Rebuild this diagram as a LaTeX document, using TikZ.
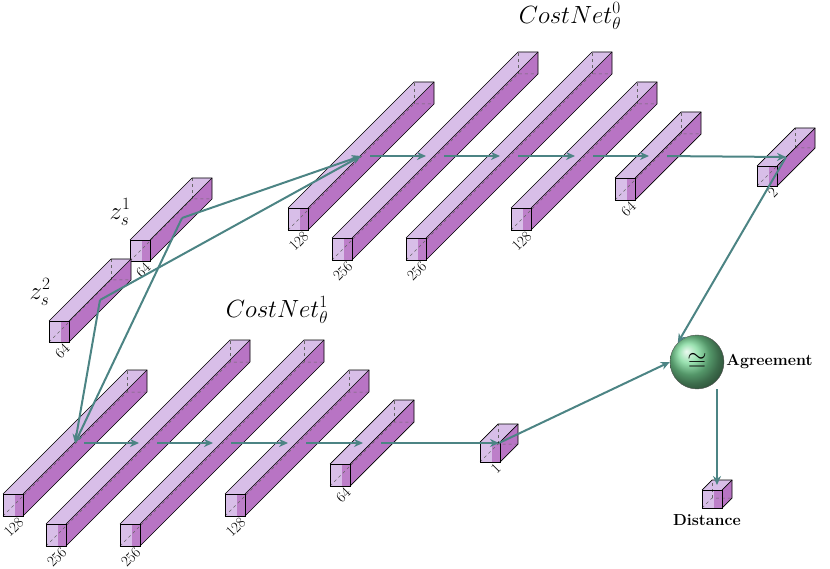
\documentclass[tikz,border=0pt]{standalone}
\usepackage{fontspec}
\usetikzlibrary{arrows.meta,shadings}
\definecolor{lightp}{RGB}{216,190,232}
\definecolor{darkp}{RGB}{184,116,196}
\definecolor{teal2}{RGB}{76,132,132}
\definecolor{ballg}{RGB}{120,215,150}
\tikzset{
  edgeline/.style={draw=black,line width=0.7pt},
  hidden/.style={draw=black!60,dashed,line width=0.5pt},
  conn/.style={draw=teal2,line width=2pt,-{Stealth[length=9pt,width=8pt]}},
  dimlabel/.style={rotate=45,anchor=east,font=\fontsize{15}{15}\selectfont,inner sep=1pt},
  bigtitle/.style={font=\fontsize{25}{27}\selectfont},
  boldlab/.style={font=\fontsize{16}{18}\selectfont\bfseries},
}
% #1 name, #2 x, #3 top y, #4 depth, #5 label, #6 width, #7 height
\newcommand\cub[7]{%
  \fill[darkp] ({#2+#6},{#3}) -- ({#2+#6},{#3+#7}) -- ({#2+#6+#4},{#3+#7-#4}) -- ({#2+#6+#4},{#3-#4}) -- cycle;
  \fill[lightp] ({#2},{#3}) -- ({#2+#6},{#3}) -- ({#2+#6+#4},{#3-#4}) -- ({#2+#4},{#3-#4}) -- cycle;
  \fill[lightp] ({#2},{#3}) rectangle ({#2+0.6*#6},{#3+#7});
  \fill[darkp!85!lightp] ({#2+0.6*#6},{#3}) rectangle ({#2+#6},{#3+#7});
  \draw[hidden] ({#2},{#3+#7}) -- ({#2+#4},{#3+#7-#4}) -- ({#2+#4+#6},{#3+#7-#4});
  \draw[hidden] ({#2+#4},{#3+#7-#4}) -- ({#2+#4},{#3-#4});
  \draw[edgeline] ({#2},{#3}) rectangle ({#2+#6},{#3+#7});
  \draw[edgeline] ({#2+#6},{#3+#7}) -- ({#2+#6+#4},{#3+#7-#4}) -- ({#2+#6+#4},{#3-#4}) -- ({#2+#4},{#3-#4}) -- ({#2},{#3});
  \draw[edgeline] ({#2+#6},{#3}) -- ({#2+#6+#4},{#3-#4});
  \coordinate (#1) at ({#2+0.5*#6+0.5*#4},{#3+0.5*#7-0.5*#4});
  \coordinate (#1-top) at ({#2+0.5*#6+0.5*#4},{#3-0.5*#4});
  \node[dimlabel] (#1-lab) at ({#2+#6-1},{#3+#7+3}) {#5};
}
\begin{document}
\begin{tikzpicture}[x=1pt,y=-1pt]
\useasboundingbox (0,0) rectangle (830,569);
% inputs
\cub{z1}{130}{240}{62}{64}{20}{21}
\cub{z2}{49}{321}{62}{64}{20}{21}
\node[bigtitle] (zl1) at (120,212) {$z_s^1$};
\node[bigtitle] (zl2) at (40,292) {$z_s^2$};
% top network
\cub{t1}{288}{208}{126}{128}{20}{22}
\cub{t2}{332}{238}{186}{256}{20}{22}
\cub{t3}{406}{238}{186}{256}{20}{22}
\cub{t4}{511}{208}{126}{128}{20}{22}
\cub{t5}{615}{178}{66}{64}{20}{22}
\cub{t6}{757}{166}{38}{2}{20}{20}
\node[bigtitle] (ttl0) at (570,16) {$CostNet^0_\theta$};
% bottom network
\cub{b1}{3}{494}{124}{128}{20}{22}
\cub{b2}{46}{524}{184}{256}{20}{22}
\cub{b3}{120}{524}{184}{256}{20}{22}
\cub{b4}{225}{494}{124}{128}{20}{22}
\cub{b5}{330}{464}{64}{64}{20}{22}
\cub{b6}{480}{442}{18}{1}{20}{20}
\node[bigtitle] (ttl1) at (277,310) {$CostNet^1_\theta$};
% agreement and distance
\node[circle,draw=black!70,minimum size=54pt,inner sep=0pt,ball color=ballg] (agr) at (697,362) {\fontsize{36}{36}\selectfont$\cong$};
\node[boldlab,anchor=west,inner sep=2pt] (agrl) at (agr.east) {Agreement};
\cub{dist}{702}{490}{10}{}{20}{18}
\node[boldlab] (distl) at (707,520) {Distance};
% connections
\coordinate (z1j) at (182,218);
\coordinate (z2j) at (100,300);
\draw[conn] (z1j) -- (t1);
\draw[conn] (z1j) -- (b1);
\draw[conn] (z2j) -- (t1);
\draw[conn] (z2j) -- (b1);
\draw[conn,shorten <=9pt,shorten >=9pt] (t1) -- (t2);
\draw[conn,shorten <=9pt,shorten >=9pt] (t2) -- (t3);
\draw[conn,shorten <=9pt,shorten >=9pt] (t3) -- (t4);
\draw[conn,shorten <=9pt,shorten >=9pt] (t4) -- (t5);
\draw[conn,shorten <=9pt,shorten >=0pt] (t5) -- (t6);
\draw[conn,shorten <=9pt,shorten >=9pt] (b1) -- (b2);
\draw[conn,shorten <=9pt,shorten >=9pt] (b2) -- (b3);
\draw[conn,shorten <=9pt,shorten >=9pt] (b3) -- (b4);
\draw[conn,shorten <=9pt,shorten >=9pt] (b4) -- (b5);
\draw[conn,shorten <=9pt,shorten >=0pt] (b5) -- (b6);
\draw[conn] (t6) -- (agr.north west);
\draw[conn] (b6) -- (agr.west);
\draw[conn] (agr.south -| dist-top) -- (dist-top);
\end{tikzpicture}
\end{document}
